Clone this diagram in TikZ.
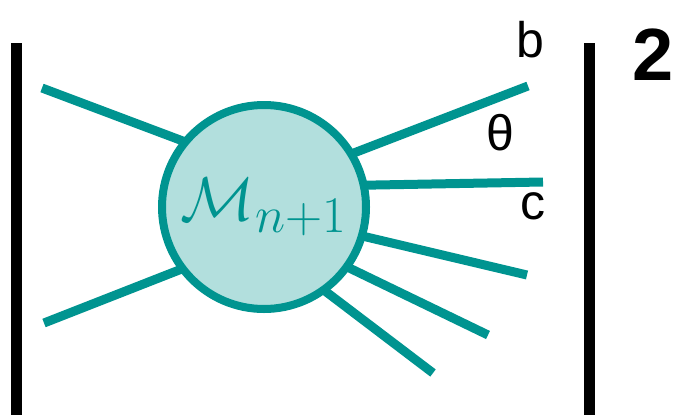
\documentclass[tikz,border=0pt]{standalone}
\usepackage{fontspec}
\setmainfont{Liberation Sans}
\definecolor{tealline}{HTML}{009490}
\definecolor{tealfill}{HTML}{B2DFDD}
\tikzset{
  leg/.style={tealline, line width=9pt},
  bar/.style={black, line width=11pt},
  lbl/.style={font=\fontsize{50}{52}\selectfont, inner sep=0pt}
}
\begin{document}
\begin{tikzpicture}[x=1pt, y=-1pt]
    \useasboundingbox (0,0) rectangle (679,415);

    % 1. Betragsstriche
    \coordinate (lt) at (16,43);  \coordinate (lb) at (16,415);
    \coordinate (rt) at (589,43); \coordinate (rb) at (589,415);
    \draw[bar] (lt) -- (lb);
    \draw[bar] (rt) -- (rb);

    % 2. Beine: freie Enden und innere Punkte
    \coordinate (ulo) at (42,88);   \coordinate (uli) at (220,155);
    \coordinate (llo) at (44,323);  \coordinate (lli) at (220,254);
    \coordinate (bo)  at (528,86);  \coordinate (bi)  at (320,166);
    \coordinate (co)  at (543,182); \coordinate (ci)  at (320,186);
    \coordinate (do)  at (527,275); \coordinate (di)  at (320,226);
    \coordinate (eo)  at (488,335); \coordinate (ei)  at (310,249);
    \coordinate (fo)  at (433,373); \coordinate (fi)  at (300,272);
    \foreach \o/\i in {ulo/uli, llo/lli, bo/bi, co/ci, do/di, eo/ei, fo/fi}
        \draw[leg] (\o) -- (\i);

    % 3. Blob
    \node[circle, draw=tealline, fill=tealfill, line width=8pt,
          minimum size=204pt, inner sep=0pt, text=tealline,
          font=\fontsize{24.88}{26}\selectfont] (blob) at (264,207)
          {\raisebox{6pt}{\scalebox{2.48}{$\mathcal{M}_{n+1}$}}};

    % 4. Beschriftungen
    \node[lbl] (b) at (530,40) {b};
    \node[lbl] (theta) at (500,133) {θ};
    \node[lbl] (c) at (533,206) {c};
    \node[lbl, font=\fontsize{74}{76}\selectfont\bfseries] (two) at (653,55) {2};

\end{tikzpicture}
\end{document}
